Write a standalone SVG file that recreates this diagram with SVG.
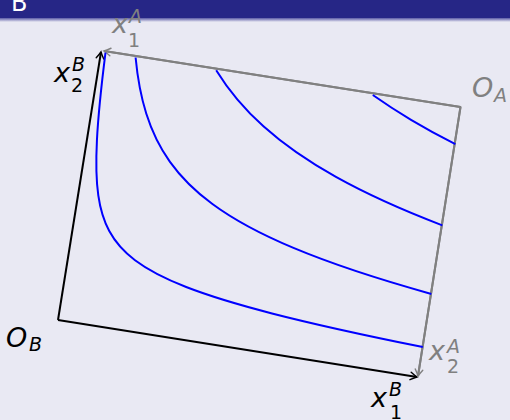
<svg xmlns="http://www.w3.org/2000/svg" width="510" height="420" viewBox="0 0 510 420">
<defs>
<linearGradient id="shade" x1="0" y1="0" x2="0" y2="1">
<stop offset="0" stop-color="#5a5aa6"/>
<stop offset="1" stop-color="#e9e9f3"/>
</linearGradient>
<marker id="arrK" viewBox="-8 -5 10 10" refX="0" refY="0" markerWidth="10" markerHeight="10" markerUnits="userSpaceOnUse" orient="auto">
<path d="M-6.5,-3.8 Q-2.2,-1 0,0 Q-2.2,1 -6.5,3.8" fill="none" stroke="#000" stroke-width="1.4" stroke-linecap="round"/>
</marker>
<marker id="arrG" viewBox="-8 -5 10 10" refX="0" refY="0" markerWidth="10" markerHeight="10" markerUnits="userSpaceOnUse" orient="auto">
<path d="M-6.5,-3.8 Q-2.2,-1 0,0 Q-2.2,1 -6.5,3.8" fill="none" stroke="#808080" stroke-width="1.4" stroke-linecap="round"/>
</marker>
</defs>
<style>
.lbl{font-family:"DejaVu Sans",sans-serif;}
.it{font-style:italic;}
.big{font-size:27px;}
.sm{font-size:19px;}
.gray{fill:#808080;}
.blk{fill:#000;}
.curve{fill:none;stroke:#0000ff;stroke-width:2;stroke-linejoin:round;}
</style>
<rect x="0" y="0" width="510" height="420" fill="#e9e9f3"/>
<g id="header">
<rect x="0" y="0" width="510" height="18" fill="#262686"/>
<rect x="0" y="18" width="510" height="4" fill="url(#shade)"/>
<text x="11" y="11" class="lbl" font-size="24" fill="#ffffff">B</text>
</g>
<g id="connectors">
<g id="axesB" fill="none" stroke="#000" stroke-width="2">
<line x1="58" y1="320" x2="101" y2="52" marker-end="url(#arrK)"/>
<line x1="58" y1="320" x2="417" y2="377" marker-end="url(#arrK)"/>
</g>
<g id="axesA" fill="none" stroke="#808080" stroke-width="2">
<polyline points="104,51 460.5,107 418,376" stroke-linejoin="round"/>
<line x1="460.5" y1="107" x2="104" y2="51" marker-end="url(#arrG)"/>
<line x1="460.5" y1="107" x2="418" y2="376" marker-end="url(#arrG)"/>
</g>
</g>
<g id="curves">
<path id="curve1" class="curve" d="M105.5,52.71 C101.07,87.82 98.16,116.24 96.93,140.28 C95.83,161.79 96.07,179.78 98.30,195.41 C100.21,208.81 103.57,220.48 109.27,231.09 C114.97,241.70 122.99,251.21 135.02,260.30 C147.05,269.39 163.03,278.05 186.16,287.04 C207.36,295.28 234.53,303.79 272.03,313.44 C309.53,323.09 357.25,333.84 422.81,347.04"/>
<path id="curve2" class="curve" d="M135.60,57.48 C137.53,78.05 140.92,96.61 146.32,113.71 C151.81,131.10 159.37,146.96 169.97,161.83 C180.57,176.70 194.20,190.57 212.42,203.99 C232.66,218.90 258.50,233.24 293.47,247.89 C328.44,262.54 372.44,277.50 431.33,293.92"/>
<path id="curve3" class="curve" d="M216.2,70.24 C228.36,90.0 243.66,108.54 263.44,126.35 C282.74,143.73 306.29,160.42 335.93,176.96 C364.79,193.06 399.42,209.02 442.32,225.40"/>
<path id="curve4" class="curve" d="M372.8,95.04 C384.56,103.36 397.27,111.60 411.04,119.80 C424.71,127.94 439.43,136.04 455.36,144.13"/>
</g>
<g id="label-OB" class="lbl blk">
<text x="6" y="347" class="big it">O</text>
<text x="29" y="351" class="sm it">B</text>
</g>
<g id="label-OA" class="lbl gray">
<text x="472" y="97" class="big it">O</text>
<text x="494" y="102" class="sm it">A</text>
</g>
<g id="label-x2B" class="lbl blk">
<text x="54" y="82" class="big it">x</text>
<text x="72" y="71" class="sm it">B</text>
<text x="71" y="92" class="sm">2</text>
</g>
<g id="label-x1A" class="lbl gray">
<text x="112" y="33" class="big it">x</text>
<text x="129" y="23" class="sm it">A</text>
<text x="128" y="47" class="sm">1</text>
</g>
<g id="label-x2A" class="lbl gray">
<text x="429" y="360" class="big it">x</text>
<text x="447" y="353" class="sm it">A</text>
<text x="447" y="373" class="sm">2</text>
</g>
<g id="label-x1B" class="lbl blk">
<text x="371" y="407" class="big it">x</text>
<text x="389" y="396" class="sm it">B</text>
<text x="390" y="419" class="sm">1</text>
</g>
</svg>
